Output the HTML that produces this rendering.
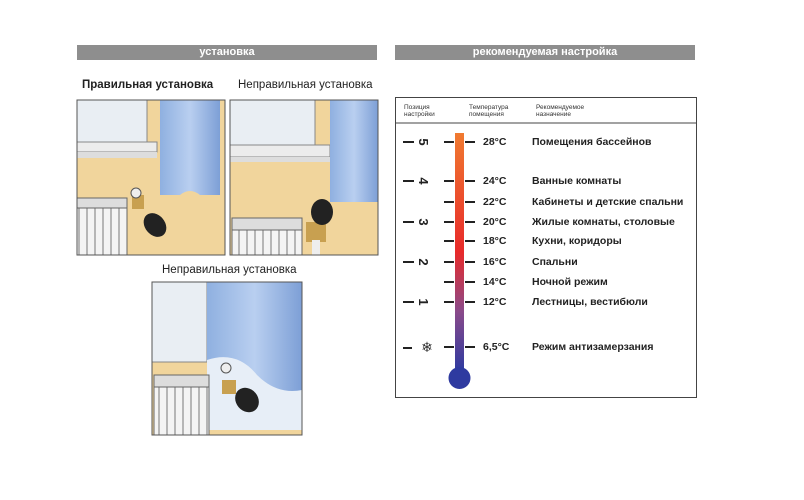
<!DOCTYPE html>
<html><head><meta charset="utf-8"><style>
body{margin:0;width:804px;height:500px;background:#fff;position:relative;overflow:hidden;font-family:"Liberation Sans","DejaVu Sans",sans-serif}
.bar{position:absolute;top:45px;height:15px;background:#8e8e8e;color:#fff;font-weight:bold;font-size:11px;text-align:center;line-height:15px}
.lbl{position:absolute;font-size:11.5px;color:#222}
.t{position:absolute;font-size:10.5px;font-weight:bold;color:#222;line-height:12px}
.h{position:absolute;font-size:6.5px;color:#333;line-height:7px;top:104px}
</style></head><body>
<div class="bar" style="left:77px;width:300px">установка</div>
<div class="bar" style="left:395px;width:300px">рекомендуемая настройка</div>
<div class="lbl" style="left:82px;top:79px;font-weight:bold">Правильная установка</div>
<div class="lbl" style="left:238px;top:79px">Неправильная установка</div>
<div class="lbl" style="left:162px;top:264px">Неправильная установка</div>

<svg style="position:absolute;left:0;top:0" width="804" height="500">
<defs>
<linearGradient id="cur" x1="0" x2="1"><stop offset="0" stop-color="#8fb0e0"/><stop offset=".5" stop-color="#b9cff0"/><stop offset="1" stop-color="#7d9fd6"/></linearGradient>
<linearGradient id="th" x1="0" y1="0" x2="0" y2="1"><stop offset="0" stop-color="#f07a30"/><stop offset=".5" stop-color="#e82a2a"/><stop offset=".75" stop-color="#8a4a8a"/><stop offset="1" stop-color="#2e3aa0"/></linearGradient>
<pattern id="rad" width="8" height="10" patternUnits="userSpaceOnUse"><rect width="8" height="10" fill="#f4f4f4"/><line x1="7" y1="0" x2="7" y2="10" stroke="#777"/></pattern>
</defs>
<!-- panel 1 -->
<g>
<rect x="77" y="100" width="148" height="155" fill="#f1d59c"/>
<rect x="77" y="100" width="70" height="42" fill="#e9eef3" stroke="#888"/>
<rect x="77" y="142" width="80" height="10" fill="#ececec" stroke="#888"/>
<rect x="77" y="152" width="80" height="6" fill="#ddd"/>
<rect x="160" y="100" width="60" height="95" fill="url(#cur)"/>
<path d="M160 195 q10 8 20 0 q10 -8 20 0 q10 8 20 0 v5 h-60z" fill="#f1d59c"/>
<rect x="77" y="205" width="50" height="50" fill="url(#rad)" stroke="#666"/>
<rect x="77" y="198" width="50" height="10" fill="#ddd" stroke="#666"/>
<rect x="132" y="195" width="12" height="14" fill="#c8a050"/>
<ellipse cx="155" cy="225" rx="10" ry="13" fill="#222" transform="rotate(-40 155 225)"/>
<circle cx="136" cy="193" r="5" fill="#eee" stroke="#555"/>
<rect x="77" y="100" width="148" height="155" fill="none" stroke="#555"/>
</g>
<!-- panel 2 -->
<g>
<rect x="230" y="100" width="148" height="155" fill="#f1d59c"/>
<rect x="230" y="100" width="85" height="45" fill="#e9eef3" stroke="#888"/>
<rect x="230" y="145" width="100" height="12" fill="#ececec" stroke="#888"/>
<rect x="230" y="157" width="100" height="5" fill="#ddd"/>
<rect x="330" y="100" width="48" height="102" fill="url(#cur)"/>
<rect x="232" y="228" width="70" height="27" fill="url(#rad)" stroke="#666"/>
<rect x="232" y="218" width="70" height="12" fill="#ddd" stroke="#666"/>
<rect x="306" y="222" width="20" height="20" fill="#c8a050"/>
<rect x="312" y="240" width="8" height="15" fill="#eee"/>
<ellipse cx="322" cy="212" rx="11" ry="13" fill="#222"/>
<rect x="230" y="100" width="148" height="155" fill="none" stroke="#555"/>
</g>
<!-- panel 3 -->
<g>
<rect x="152" y="282" width="150" height="153" fill="#f1d59c"/>
<rect x="152" y="282" width="55" height="80" fill="#e9eef3" stroke="#888"/>
<rect x="207" y="282" width="95" height="140" fill="url(#cur)"/>
<path d="M207 360 q30 -10 50 15 q20 20 45 15 v40 h-95z" fill="#e7eef7"/>
<rect x="154" y="385" width="55" height="50" fill="url(#rad)" stroke="#666"/>
<rect x="154" y="375" width="55" height="12" fill="#ddd" stroke="#666"/>
<rect x="222" y="380" width="14" height="14" fill="#c8a050"/>
<ellipse cx="247" cy="400" rx="11" ry="13" fill="#222" transform="rotate(-40 247 400)"/>
<circle cx="226" cy="368" r="5" fill="#eee" stroke="#555"/>
<rect x="152" y="282" width="150" height="153" fill="none" stroke="#555"/>
</g>
<!-- thermometer box -->
<rect x="395.5" y="97.5" width="301" height="300" fill="#fff" stroke="#444"/>
<line x1="396" y1="123" x2="696" y2="123" stroke="#444"/>
<rect x="455" y="133" width="9" height="238" fill="url(#th)"/>
<circle cx="459.5" cy="378" r="11" fill="#2e3aa0"/>
<g stroke="#222" stroke-width="2">
<line x1="444" y1="142" x2="454" y2="142"/><line x1="465" y1="142" x2="475" y2="142"/>
<line x1="444" y1="181" x2="454" y2="181"/><line x1="465" y1="181" x2="475" y2="181"/>
<line x1="444" y1="202" x2="454" y2="202"/><line x1="465" y1="202" x2="475" y2="202"/>
<line x1="444" y1="222" x2="454" y2="222"/><line x1="465" y1="222" x2="475" y2="222"/>
<line x1="444" y1="241" x2="454" y2="241"/><line x1="465" y1="241" x2="475" y2="241"/>
<line x1="444" y1="262" x2="454" y2="262"/><line x1="465" y1="262" x2="475" y2="262"/>
<line x1="444" y1="282" x2="454" y2="282"/><line x1="465" y1="282" x2="475" y2="282"/>
<line x1="444" y1="302" x2="454" y2="302"/><line x1="465" y1="302" x2="475" y2="302"/>
<line x1="444" y1="347" x2="454" y2="347"/><line x1="465" y1="347" x2="475" y2="347"/>
<line x1="403" y1="142" x2="414" y2="142"/>
<line x1="403" y1="181" x2="414" y2="181"/>
<line x1="403" y1="222" x2="414" y2="222"/>
<line x1="403" y1="262" x2="414" y2="262"/>
<line x1="403" y1="302" x2="414" y2="302"/>
<line x1="403" y1="348" x2="412" y2="348"/>
</g>
<g font-family="Liberation Sans,sans-serif" font-weight="bold" font-size="13" fill="#222">
<text transform="translate(419,142) rotate(90)" text-anchor="middle">5</text>
<text transform="translate(419,181) rotate(90)" text-anchor="middle">4</text>
<text transform="translate(419,222) rotate(90)" text-anchor="middle">3</text>
<text transform="translate(419,262) rotate(90)" text-anchor="middle">2</text>
<text transform="translate(419,302) rotate(90)" text-anchor="middle">1</text>
</g>
<text x="427" y="352" font-size="14" fill="#333" text-anchor="middle">❄</text>
</svg>

<div class="h" style="left:404px">Позиция<br>настройки</div>
<div class="h" style="left:469px">Температура<br>помещения</div>
<div class="h" style="left:536px">Рекомендуемое<br>назначение</div>

<div class="t" style="left:483px;top:136px">28°C</div><div class="t" style="left:532px;top:136px">Помещения бассейнов</div>
<div class="t" style="left:483px;top:175px">24°C</div><div class="t" style="left:532px;top:175px">Ванные комнаты</div>
<div class="t" style="left:483px;top:196px">22°C</div><div class="t" style="left:532px;top:196px">Кабинеты и детские спальни</div>
<div class="t" style="left:483px;top:216px">20°C</div><div class="t" style="left:532px;top:216px">Жилые комнаты, столовые</div>
<div class="t" style="left:483px;top:235px">18°C</div><div class="t" style="left:532px;top:235px">Кухни, коридоры</div>
<div class="t" style="left:483px;top:256px">16°C</div><div class="t" style="left:532px;top:256px">Спальни</div>
<div class="t" style="left:483px;top:276px">14°C</div><div class="t" style="left:532px;top:276px">Ночной режим</div>
<div class="t" style="left:483px;top:296px">12°C</div><div class="t" style="left:532px;top:296px">Лестницы, вестибюли</div>
<div class="t" style="left:483px;top:341px">6,5°C</div><div class="t" style="left:532px;top:341px">Режим антизамерзания</div>
</body></html>
